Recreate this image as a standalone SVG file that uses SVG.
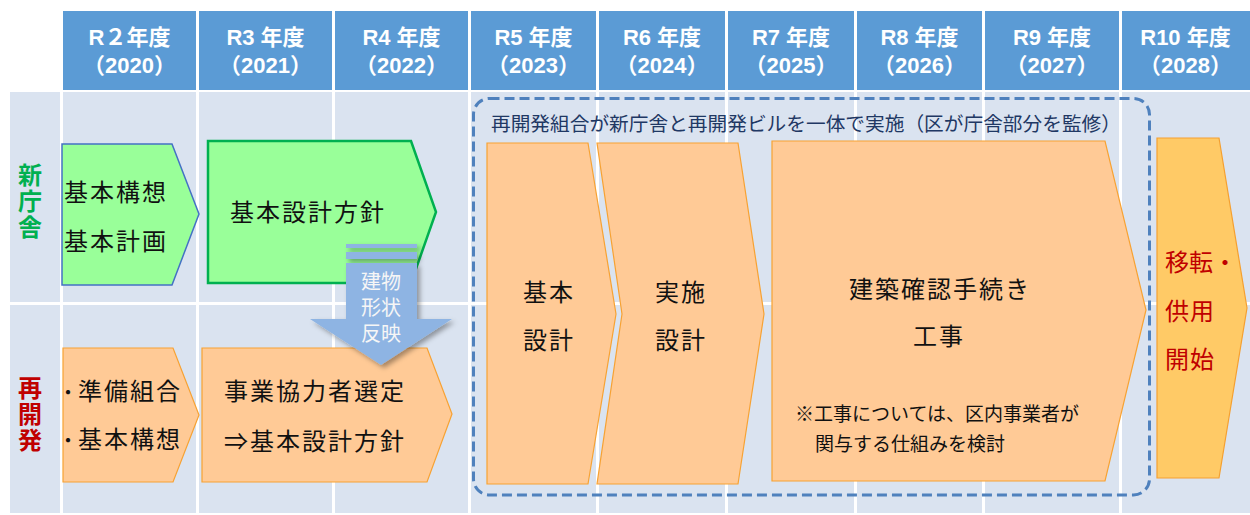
<svg xmlns="http://www.w3.org/2000/svg" width="1250" height="515" viewBox="0 0 1250 515">
<defs>
<style>
.hd{fill:#5B9BD5}
.cell{fill:#DAE3F0}
.ht{font-family:"Liberation Sans","Noto Sans CJK JP",sans-serif;font-weight:bold;font-size:22px;fill:#fff;text-anchor:middle}
.t{font-family:"Noto Sans CJK JP","Noto Sans",sans-serif;font-size:24px;fill:#111;letter-spacing:2px}
.s{font-family:"Noto Sans CJK JP","Noto Sans",sans-serif;font-size:19px;fill:#111}
.lab{font-family:"Noto Sans CJK JP","Noto Sans",sans-serif;font-size:24px;font-weight:bold;writing-mode:vertical-rl;letter-spacing:2px}
.grn{fill:#99FF99}
.org{fill:#FFCA96;stroke:#F7A233;stroke-width:1.2}
.wt{font-family:"Liberation Sans","Noto Sans CJK JP",sans-serif;font-size:20px;fill:#F6F6F6;text-anchor:middle}
</style>
<filter id="sh" x="-20%" y="-20%" width="150%" height="150%"><feDropShadow dx="3" dy="3" stdDeviation="2.5" flood-color="#000" flood-opacity="0.35"/></filter>
</defs>
<rect x="0" y="0" width="1250" height="515" fill="#fff"/>
<g id="grid">
<rect class="hd" x="63" y="11" width="133" height="79"/>
<rect class="hd" x="199" y="11" width="133" height="79"/>
<rect class="hd" x="335" y="11" width="133" height="79"/>
<rect class="hd" x="471" y="11" width="125" height="79"/>
<rect class="hd" x="599" y="11" width="126" height="79"/>
<rect class="hd" x="728" y="11" width="126" height="79"/>
<rect class="hd" x="857" y="11" width="125" height="79"/>
<rect class="hd" x="985" y="11" width="134" height="79"/>
<rect class="hd" x="1122" y="11" width="128" height="79"/>
<rect class="cell" x="10" y="92" width="50" height="210"/>
<rect class="cell" x="63" y="92" width="133" height="210"/>
<rect class="cell" x="199" y="92" width="133" height="210"/>
<rect class="cell" x="335" y="92" width="133" height="210"/>
<rect class="cell" x="471" y="92" width="125" height="210"/>
<rect class="cell" x="599" y="92" width="126" height="210"/>
<rect class="cell" x="728" y="92" width="126" height="210"/>
<rect class="cell" x="857" y="92" width="125" height="210"/>
<rect class="cell" x="985" y="92" width="134" height="210"/>
<rect class="cell" x="1122" y="92" width="128" height="210"/>
<rect class="cell" x="10" y="305" width="50" height="208"/>
<rect class="cell" x="63" y="305" width="133" height="208"/>
<rect class="cell" x="199" y="305" width="133" height="208"/>
<rect class="cell" x="335" y="305" width="133" height="208"/>
<rect class="cell" x="471" y="305" width="125" height="208"/>
<rect class="cell" x="599" y="305" width="126" height="208"/>
<rect class="cell" x="728" y="305" width="126" height="208"/>
<rect class="cell" x="857" y="305" width="125" height="208"/>
<rect class="cell" x="985" y="305" width="134" height="208"/>
<rect class="cell" x="1122" y="305" width="128" height="208"/>
</g>
<g id="headers">
<text class="ht" x="129.5" y="45">R２年度</text><text class="ht" x="129.5" y="73">（2020）</text>
<text class="ht" x="265.5" y="45">R3 年度</text><text class="ht" x="265.5" y="73">（2021）</text>
<text class="ht" x="401.5" y="45">R4 年度</text><text class="ht" x="401.5" y="73">（2022）</text>
<text class="ht" x="533.5" y="45">R5 年度</text><text class="ht" x="533.5" y="73">（2023）</text>
<text class="ht" x="662" y="45">R6 年度</text><text class="ht" x="662" y="73">（2024）</text>
<text class="ht" x="791" y="45">R7 年度</text><text class="ht" x="791" y="73">（2025）</text>
<text class="ht" x="919.5" y="45">R8 年度</text><text class="ht" x="919.5" y="73">（2026）</text>
<text class="ht" x="1052" y="45">R9 年度</text><text class="ht" x="1052" y="73">（2027）</text>
<text class="ht" x="1185.5" y="45">R10 年度</text><text class="ht" x="1185.5" y="73">（2028）</text>
</g>
<g id="row-labels">
<text class="lab" x="30" y="163" fill="#00B050">新庁舎</text>
<text class="lab" x="30" y="376" fill="#C00000">再開発</text>
</g>
<g id="n-kihon-koso">
<polygon class="grn" points="62,144 172,144 199,214 172,285 62,285" stroke="#4472C4" stroke-width="1.5"/>
<text class="t"><tspan x="64" y="201">基本構想</tspan><tspan x="64" y="250">基本計画</tspan></text>
</g>
<g id="n-kihon-sekkei-hoshin">
<polygon class="grn" points="208,141 411,141 436,212 411,283 208,283" stroke="#00B050" stroke-width="2.5"/>
<text class="t" x="230" y="221">基本設計方針</text>
</g>
<g id="n-junbi">
<polygon class="org" points="63,348 173,348 199,415 173,482 63,482"/>
<text class="t"><tspan x="58" y="400" font-size="20" letter-spacing="0">・</tspan><tspan x="78" y="400">準備組合</tspan><tspan x="58" y="448" font-size="20" letter-spacing="0">・</tspan><tspan x="78" y="448">基本構想</tspan></text>
</g>
<g id="n-jigyo">
<polygon class="org" points="202,348 427,348 452,414 427,482 202,482"/>
<text class="t"><tspan x="224" y="400">事業協力者選定</tspan><tspan x="224" y="450">⇒基本設計方針</tspan></text>
</g>
<g id="n-group">
<rect x="473.5" y="98.5" width="676" height="396.5" rx="16" fill="none" stroke="#4F81BD" stroke-width="3" stroke-dasharray="10 5"/>
<text x="491" y="131" font-family="'Noto Sans CJK JP','Noto Sans',sans-serif" font-size="19.7" fill="#1F3864">再開発組合が新庁舎と再開発ビルを一体で実施（区が庁舎部分を監修）</text>
</g>
<g id="n-kihon-sekkei">
<polygon class="org" points="487,143 588,143 616,314 588,484 487,484"/>
<text class="t"><tspan x="523" y="301">基本</tspan><tspan x="523" y="349">設計</tspan></text>
</g>
<g id="n-jisshi-sekkei">
<polygon class="org" points="597,143 738,143 764,314 738,484 597,484 622,314"/>
<text class="t"><tspan x="655" y="301">実施</tspan><tspan x="655" y="349">設計</tspan></text>
</g>
<g id="n-koji">
<polygon class="org" points="772,141 1105,141 1146,310 1105,481 772,481"/>
<text class="t"><tspan x="849" y="298">建築確認手続き</tspan><tspan x="913" y="345">工事</tspan></text>
<text class="s"><tspan x="795" y="421">※工事については、区内事業者が</tspan><tspan x="815" y="451">関与する仕組みを検討</tspan></text>
</g>
<g id="n-iten">
<polygon points="1157,138 1219,138 1247,308 1219,478 1157,478" fill="#FFCA66" stroke="#F5A030" stroke-width="1.2"/>
<text class="t" style="fill:#C00000;letter-spacing:1px"><tspan x="1165" y="271" letter-spacing="0">移転・</tspan><tspan x="1165" y="320">供用</tspan><tspan x="1165" y="368">開始</tspan></text>
</g>
<g id="connectors">
<g filter="url(#sh)" fill="#8EB4E3">
<rect x="346" y="244" width="71" height="4"/>
<rect x="346" y="252" width="71" height="7"/>
<polygon points="346,263 417,263 417,319 452,319 381,365 310,319 346,319"/>
</g>
<text class="wt"><tspan x="381" y="289">建物</tspan><tspan x="381" y="315">形状</tspan><tspan x="381" y="341">反映</tspan></text>
</g>
</svg>
